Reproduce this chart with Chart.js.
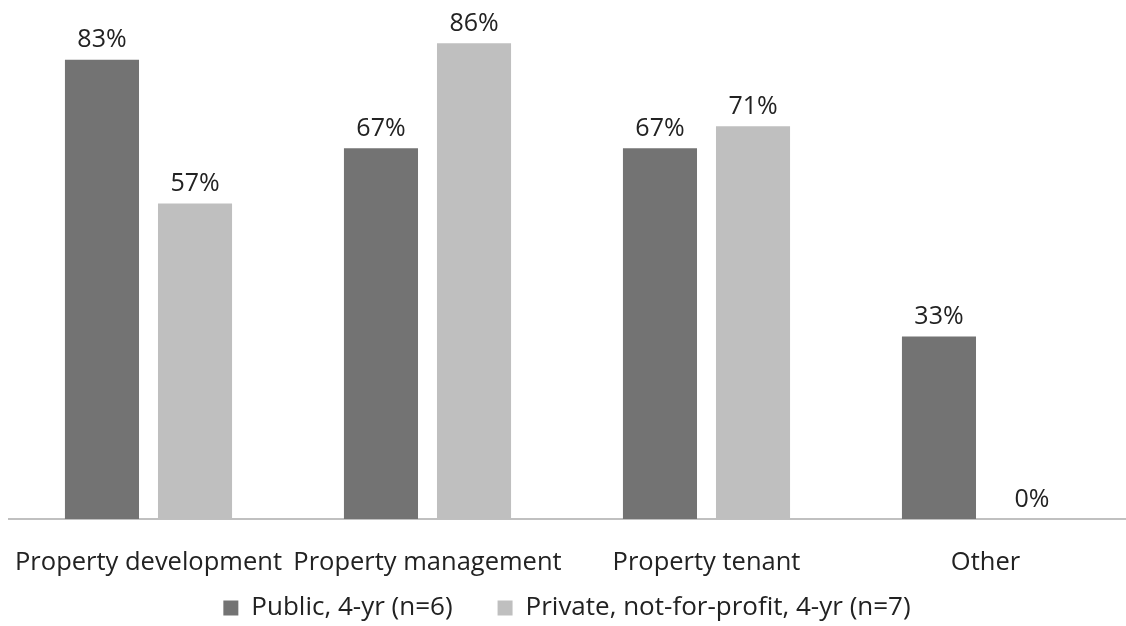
<!DOCTYPE html>
<html>
<head>
<meta charset="utf-8">
<script src="https://cdn.jsdelivr.net/npm/chart.js@4/dist/chart.umd.min.js"></script>
<style>
  html, body { margin: 0; padding: 0; background: #fff; }
  #wrap { width: 1126px; height: 626px; }
</style>
</head>
<body>
<div id="wrap"><canvas id="grafico"></canvas></div>
<script>
var categorias = ["Property development", "Property management", "Property tenant", "Other"];
var publicas = [83, 67, 67, 33];
var privadas = [57, 86, 71, 0];
var series = ["Public, 4-yr (n=6)", "Private, not-for-profit, 4-yr (n=7)"];

// write the percentage above every bar
var etiquetas = {
  id: 'etiquetas',
  afterDatasetsDraw: function(chart) {
    var ctx = chart.ctx;
    ctx.save();
    ctx.font = '25px "Open Sans", sans-serif';
    ctx.fillStyle = '#222';
    ctx.textAlign = 'center';
    ctx.textBaseline = 'bottom';
    chart.data.datasets.forEach(function(ds, i) {
      chart.getDatasetMeta(i).data.forEach(function(bar, j) {
        ctx.fillText(ds.data[j] + '%', bar.x, bar.y - 7);
      });
    });
    ctx.restore();
  }
};

// the x band is kept short so the legend can sit close; let its labels run past it
var sinRecorte = {
  id: 'sinRecorte',
  afterLayout: function(chart) {
    chart.scales.x.bottom = chart.height;
  }
};

var ctx = document.getElementById("grafico");

var barras = new Chart(ctx, {
  type: 'bar',
  data: {
    labels: categorias,
    datasets: [{
      label: series[0],
      data: publicas,
      backgroundColor: '#737373'
    }, {
      label: series[1],
      data: privadas,
      backgroundColor: '#bfbfbf'
    }]
  },
  options: {
    responsive: true,
    maintainAspectRatio: false,
    animation: false,
    categoryPercentage: 0.667,
    barPercentage: 0.796,
    layout: { padding: { left: 9, right: 1, top: 21, bottom: -5 } },
    plugins: {
      tooltip: { enabled: false },
      legend: {
        position: 'bottom',
        labels: {
          font: { size: 26, family: '"Open Sans", sans-serif' },
          color: '#222',
          boxWidth: 15,
          boxHeight: 15,
          padding: 45
        }
      }
    },
    scales: {
      x: {
        grid: { display: false },
        border: { color: '#c0c0c0', width: 2 },
        ticks: {
          color: '#222',
          padding: 20,
          maxRotation: 0,
          autoSkip: false,
          font: { size: 25.5, family: '"Open Sans", sans-serif' }
        },
        afterFit: function(scale) {
          scale.height = 31;
          scale.paddingLeft = 0;
          scale.paddingRight = 0;
        }
      },
      y: {
        display: false,
        min: 0,
        max: 90
      }
    }
  },
  plugins: [etiquetas, sinRecorte]
});
</script>
</body>
</html>
